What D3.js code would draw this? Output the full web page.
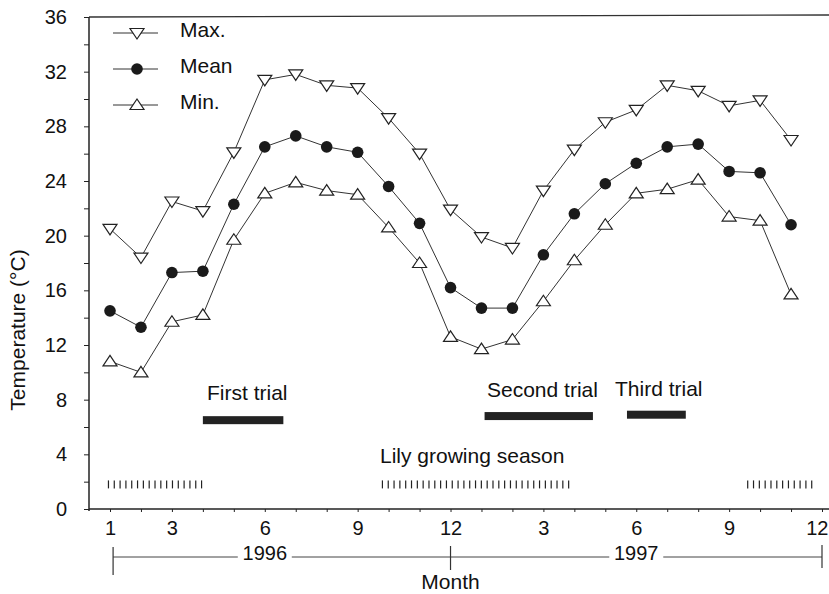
<!DOCTYPE html>
<html>
<head>
<meta charset="utf-8">
<script src="https://cdn.jsdelivr.net/npm/d3@7.9.0/dist/d3.min.js"></script>
<style>
  body { margin: 0; background: #fff; }
  svg { display: block; font-family: "Liberation Sans", Arial, sans-serif; }
  .axis path, .axis line { stroke: #222; }
  .axis text { font-size: 20px; fill: #111; }
</style>
</head>
<body>
<svg id="chart" width="829" height="594"></svg>
<script>
// months 1..24 = Jan 1996 .. Dec 1997
const months = d3.range(1, 25);
const maxTemp = [20.5, 18.4, 22.5, 21.8, 26.1, 31.4, 31.8, 31.0, 30.8, 28.6, 26.0, 21.9,
                 19.9, 19.1, 23.3, 26.3, 28.3, 29.2, 31.0, 30.6, 29.5, 29.9, 27.0];
const meanTemp = [14.5, 13.3, 17.3, 17.4, 22.3, 26.5, 27.3, 26.5, 26.1, 23.6, 20.9, 16.2,
                  14.7, 14.7, 18.6, 21.6, 23.8, 25.3, 26.5, 26.7, 24.7, 24.6, 20.8];
const minTemp = [10.8, 10.0, 13.7, 14.2, 19.7, 23.1, 23.9, 23.3, 23.0, 20.6, 18.0, 12.6,
                 11.7, 12.4, 15.2, 18.2, 20.8, 23.1, 23.4, 24.1, 21.4, 21.1, 15.7];
const yTicks = d3.range(0, 37, 2);
const xLabelled = [1, 3, 6, 9, 12, 15, 18, 21, 24];
const trials = [
  { name: 'First trial', start: 4.0, end: 6.6, level: 6.5 },
  { name: 'Second trial', start: 13.1, end: 16.6, level: 6.8 },
  { name: 'Third trial', start: 17.7, end: 19.6, level: 6.9 }
];
const seasons = [[0.95, 4.1], [9.8, 15.95], [21.6, 23.8]];
const seasonLevel = 1.8;
const years = [{ label: '1996', from: 1.1, to: 12, mid: 6 }, { label: '1997', from: 12, to: 24, mid: 18 }];

const svg = d3.select('#chart');
const x = d3.scaleLinear().domain([1, 24]).range([110, 822]);
const y = d3.scaleLinear().domain([0, 36]).range([509, 17]);
const left = 89, right = 829;
const fs = 21;

// frame
svg.append('line').attr('x1', left).attr('x2', right).attr('y1', y(36)).attr('y2', y(36) - 2)
  .attr('stroke', '#333').attr('stroke-width', 1.3);

const yAxis = svg.append('g').attr('class', 'axis').attr('transform', `translate(${left},0)`)
  .call(d3.axisLeft(y).tickValues(yTicks).tickSize(5).tickPadding(17)
    .tickFormat((d) => (d % 4 === 0 ? d : '')));
yAxis.select('.domain').attr('d', `M0,${y(0) + 2}V${y(36)}`).attr('stroke-width', 1.5);

const xAxis = svg.append('g').attr('class', 'axis').attr('transform', `translate(0,${y(0)})`)
  .call(d3.axisBottom(x).tickValues(months).tickSize(3).tickPadding(9)
    .tickFormat((d) => (xLabelled.includes(d) ? ((d - 1) % 12) + 1 : '')));
xAxis.select('.domain').attr('d', `M${left},0H${right}`).attr('stroke-width', 1.5);
// last label sits right at the edge, keep it inside
xAxis.selectAll('.tick').filter((d) => d === 24).select('text')
  .attr('text-anchor', 'end').attr('x', 6);

svg.append('text').attr('transform', 'translate(25,330) rotate(-90)')
  .attr('text-anchor', 'middle').attr('font-size', fs).attr('fill', '#111')
  .text('Temperature (°C)');

// year bracket
const by = 557;
svg.append('line').attr('x1', x(1.1)).attr('x2', x(24)).attr('y1', by).attr('y2', by)
  .attr('stroke', '#444').attr('stroke-width', 1);
[[1.1, 547, 575], [12, 546, 570], [24, 545, 568]].forEach(([m, a, b]) => {
  svg.append('line').attr('x1', x(m)).attr('x2', x(m)).attr('y1', a).attr('y2', b)
    .attr('stroke', '#333').attr('stroke-width', 1.2);
});
years.forEach((yr) => {
  svg.append('rect').attr('x', x(yr.mid) - 27).attr('y', by - 10).attr('width', 54).attr('height', 18)
    .attr('fill', '#fff');
  svg.append('text').attr('x', x(yr.mid)).attr('y', by + 3).attr('text-anchor', 'middle')
    .attr('font-size', 20).attr('fill', '#111').text(yr.label);
});
svg.append('text').attr('x', x(12)).attr('y', 589).attr('text-anchor', 'middle')
  .attr('font-size', fs).attr('fill', '#111').text('Month');

// series
const series = [
  { name: 'Max.', values: maxTemp, marker: 'down' },
  { name: 'Mean', values: meanTemp, marker: 'circle' },
  { name: 'Min.', values: minTemp, marker: 'up' }
];
const line = d3.line().x((d, i) => x(i + 1)).y((d) => y(d));

function drawMarker(g, type, cx, cy) {
  if (type === 'circle') {
    g.append('circle').attr('cx', cx).attr('cy', cy).attr('r', 5.8).attr('fill', '#1a1a1a');
  } else {
    const s = type === 'up' ? 1 : -1;
    g.append('path')
      .attr('d', `M${cx},${cy - 6 * s}L${cx + 7},${cy + 4.5 * s}L${cx - 7},${cy + 4.5 * s}Z`)
      .attr('fill', '#fff').attr('stroke', '#222').attr('stroke-width', 1.2);
  }
}

series.forEach((s) => {
  svg.append('path').datum(s.values).attr('d', line)
    .attr('fill', 'none').attr('stroke', '#333').attr('stroke-width', 1);
  const g = svg.append('g');
  s.values.forEach((v, i) => drawMarker(g, s.marker, x(i + 1), y(v)));
});

// legend
series.forEach((s, i) => {
  const ly = 33 + i * 36;
  svg.append('line').attr('x1', 113).attr('x2', 158).attr('y1', ly).attr('y2', ly)
    .attr('stroke', '#333').attr('stroke-width', 1);
  drawMarker(svg, s.marker, 137, ly);
  svg.append('text').attr('x', 180).attr('y', ly - 3).attr('dy', '0.35em')
    .attr('font-size', fs).attr('fill', '#111').text(s.name);
});

// trials
trials.forEach((t) => {
  svg.append('rect').attr('x', x(t.start)).attr('width', x(t.end) - x(t.start))
    .attr('y', y(t.level) - 4).attr('height', 8).attr('fill', '#222');
});
svg.append('text').attr('x', 207).attr('y', 400).attr('font-size', fs).attr('fill', '#111').text('First trial');
svg.append('text').attr('x', 487).attr('y', 397).attr('font-size', fs).attr('fill', '#111').text('Second trial');
svg.append('text').attr('x', 615).attr('y', 396).attr('font-size', fs).attr('fill', '#111').text('Third trial');

// lily growing season hatch
seasons.forEach(([a, b]) => {
  d3.range(a, b, 0.188).forEach((m) => {
    svg.append('line').attr('x1', x(m)).attr('x2', x(m))
      .attr('y1', y(seasonLevel) - 4).attr('y2', y(seasonLevel) + 4)
      .attr('stroke', '#222').attr('stroke-width', 1.2);
  });
});
svg.append('text').attr('x', 380).attr('y', 463).attr('font-size', fs).attr('fill', '#111')
  .text('Lily growing season');
</script>
</body>
</html>
